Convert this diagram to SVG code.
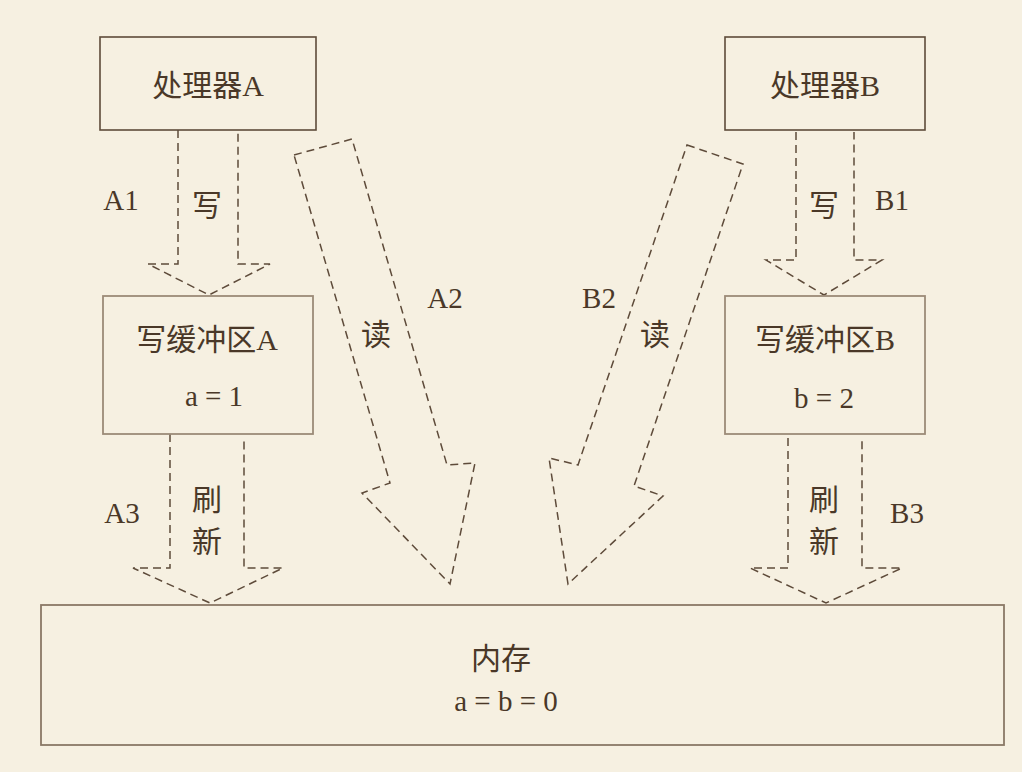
<svg xmlns="http://www.w3.org/2000/svg" width="1022" height="772" viewBox="0 0 1022 772">
<style>
.bg{fill:#f6f0e1}
.box{fill:#f6f0e1;stroke:#5e4b3a;stroke-width:1.6}
.box2{fill:#f6f0e1;stroke:#9c8b78;stroke-width:1.8}
.box3{fill:#f6f0e1;stroke:#8a7866;stroke-width:1.8}
.dash{fill:none;stroke:#5e4b3a;stroke-width:1.5;stroke-dasharray:8 5}
.t{font-family:"Liberation Serif","Noto Sans CJK SC",serif;fill:#4a3828;font-size:29px;text-anchor:middle}
.c{font-size:30px}
</style>
<rect class="bg" x="0" y="0" width="1022" height="772"/>
<g id="connectors">
  <g id="A1">
    <path class="dash" d="M178,130 V264 H148 L209,295 L270,264 H238 V130"/>
    <text class="t c" x="207" y="216">写</text>
    <text class="t" x="121" y="210">A1</text>
  </g>
  <g id="B1">
    <path class="dash" d="M796,132 V260 H766 L824,295 L882,260 H854 V132"/>
    <text class="t c" x="824" y="216">写</text>
    <text class="t" x="892" y="210">B1</text>
  </g>
  <g id="A3">
    <path class="dash" d="M170,434 V568 H133 L210,603 L283,568 H244 V440"/>
    <text class="t c" x="207" y="510">刷</text>
    <text class="t c" x="207" y="552">新</text>
    <text class="t" x="122" y="523">A3</text>
  </g>
  <g id="B3">
    <path class="dash" d="M788,438 V568 H750 L826,603 L902,568 H862 V438"/>
    <text class="t c" x="824" y="510">刷</text>
    <text class="t c" x="824" y="552">新</text>
    <text class="t" x="907" y="523">B3</text>
  </g>
  <g id="A2">
    <path class="dash" d="M294,155 L352,139 L447,465 L475,463 L450,584 L362,493 L390,483 Z"/>
    <text class="t c" x="376" y="345">读</text>
    <text class="t" x="445" y="308">A2</text>
  </g>
  <g id="B2">
    <path class="dash" d="M687,145 L743,164 L634,486 L663,496 L568,584 L549,458 L578,465 Z"/>
    <text class="t c" x="655" y="345">读</text>
    <text class="t" x="599" y="308">B2</text>
  </g>
</g>
<g id="procA">
  <rect class="box" x="100" y="37" width="216" height="93"/>
  <text class="t c" x="208" y="96">处理器A</text>
</g>
<g id="procB">
  <rect class="box" x="725" y="37" width="200" height="93"/>
  <text class="t c" x="825" y="96">处理器B</text>
</g>
<g id="bufA">
  <rect class="box2" x="103" y="296" width="210" height="138"/>
  <text class="t c" x="207" y="350">写缓冲区A</text>
  <text class="t" x="214" y="406">a = 1</text>
</g>
<g id="bufB">
  <rect class="box2" x="725" y="296" width="200" height="138"/>
  <text class="t c" x="825" y="350">写缓冲区B</text>
  <text class="t" x="824" y="408">b = 2</text>
</g>
<g id="mem">
  <rect class="box3" x="41" y="605" width="963" height="140"/>
  <text class="t c" x="501" y="669">内存</text>
  <text class="t" x="506" y="711" font-size="31">a = b = 0</text>
</g>
</svg>
